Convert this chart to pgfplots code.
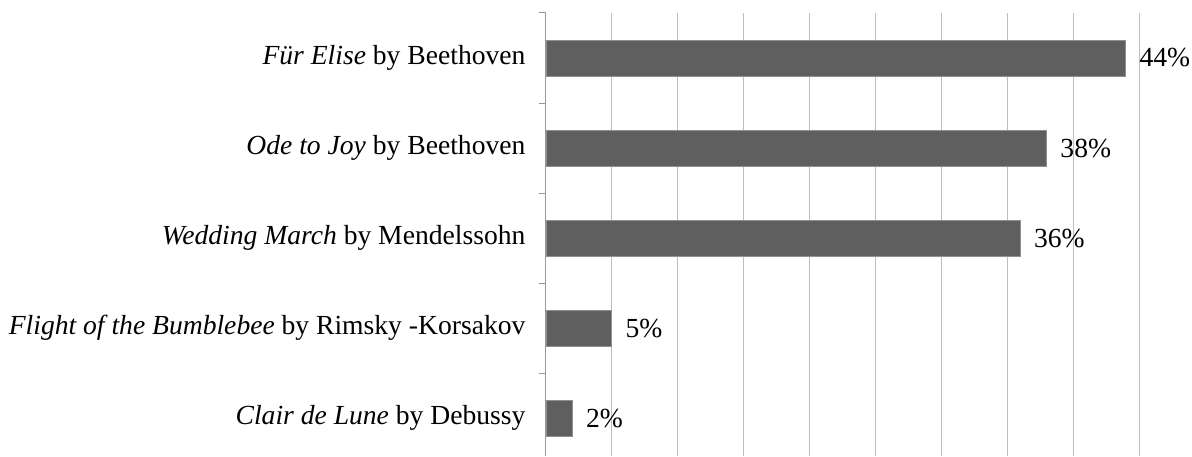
\documentclass[border=0pt]{standalone}
\usepackage{pgfplots}
\pgfplotsset{compat=1.18}
\usepackage{fontspec}
\setmainfont{Liberation Serif}
\definecolor{barfill}{HTML}{5F5F5F}
\definecolor{gridc}{HTML}{BDBDBD}
\definecolor{axisc}{HTML}{9A9A9A}
\begin{document}
\begin{tikzpicture}
\begin{axis}[
  name=ax,
  scale only axis,
  width=593pt, height=443pt,
  xbar, bar width=0.4,
  xmin=0, xmax=45,
  ymin=-0.422, ymax=4.5,
  xtick={0,5,...,45},
  xticklabels={},
  xmajorgrids,
  major x grid style={draw=gridc, line width=1pt},
  x axis line style={draw=none},
  axis x line*=bottom,
  axis y line*=left,
  y axis line style={draw=axisc, line width=1pt},
  xtick style={draw=none},
  ytick={0,1,2,3,4},
  minor ytick={0.5,1.5,2.5,3.5,4.5},
  major tick length=0pt,
  minor tick length=7pt,
  tick align=outside,
  ytick style={draw=axisc, line width=1pt},
  minor y tick style={draw=axisc, line width=1pt},
  yticklabels={{\textit{Clair de Lune} by Debussy},
               {\textit{Flight of the Bumblebee} by Rimsky -Korsakov},
               {\textit{Wedding March} by Mendelssohn},
               {\textit{Ode to Joy} by Beethoven},
               {\textit{Für Elise} by Beethoven}},
  yticklabel style={font=\fontsize{27.6}{30}\selectfont, xshift=-17pt},
  /pgf/number format/assume math mode=true,
  nodes near coords={\pgfmathprintnumber{\pgfplotspointmeta}\%},
  nodes near coords align={horizontal},
  every node near coord/.append style={font=\fontsize{27.6}{30}\selectfont, anchor=west, xshift=10pt},
  clip=false,
]
\addplot[fill=barfill, draw=barfill!70!white, line width=0.8pt] coordinates {
  (2,0) (5,1) (36,2) (38,3) (44,4)
};
\end{axis}
\pgfresetboundingbox
\useasboundingbox ([xshift=-546pt]ax.south west) rectangle ([xshift=53pt,yshift=13pt]ax.north east);
\end{tikzpicture}
\end{document}
